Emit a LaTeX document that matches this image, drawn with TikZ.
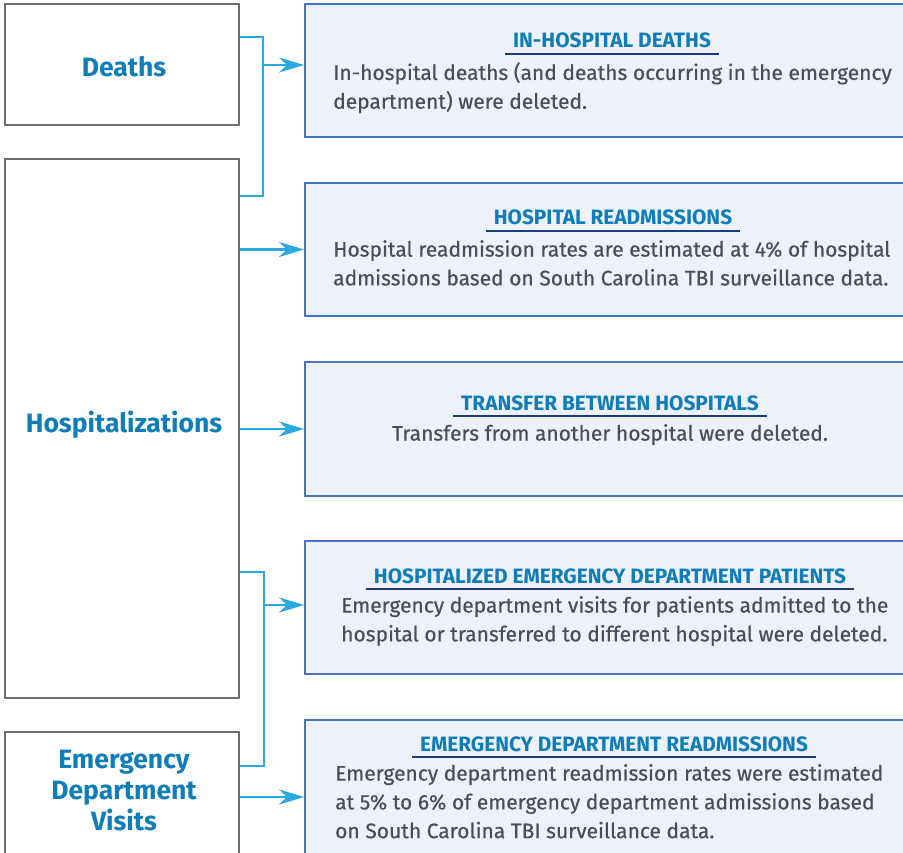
\documentclass[tikz,border=0pt]{standalone}
\usepackage{fontspec}
\setmainfont{Fira Sans}
\newfontfamily\bodyf{Fira Sans}[FakeBold=0.5]
\usetikzlibrary{arrows.meta}
\definecolor{lgray}{HTML}{6E6E6E}
\definecolor{lblue}{HTML}{0F7DB8}
\definecolor{rblue}{HTML}{4A74BE}
\definecolor{rfill}{HTML}{EDF2FA}
\definecolor{ulblue}{HTML}{1C3C78}
\definecolor{cyanl}{HTML}{29A9E0}
\definecolor{bodyc}{HTML}{4B4F55}
\begin{document}
\begin{tikzpicture}[x=1pt,y=-1pt,
  lbox/.style={draw=lgray, line width=2.5pt, fill=white, minimum width=234pt, inner sep=0pt},
  lbl/.style={text=lblue, font=\fontsize{26.5}{31}\selectfont\bfseries, inner sep=0pt, align=center},
  rbox/.style={draw=rblue, fill=rfill, line width=2pt, minimum width=614pt, inner sep=0pt},
  hd/.style={text=lblue, font=\fontsize{20.8}{24}\selectfont\bfseries, inner sep=0pt, anchor=base},
  ul/.style={draw=ulblue, line width=2.5pt},
  body/.style={text=bodyc, font=\fontsize{21}{28.8}\bodyf\selectfont, inner sep=0pt, anchor=north west, align=left},
  br/.style={draw=cyanl, line width=2.5pt},
  arr/.style={draw=cyanl, line width=2.5pt, -{Stealth[length=25pt,width=15pt,inset=8pt]}}
]
\useasboundingbox (0,0) rectangle (903,853);
\clip (0,0) rectangle (903,853);

% left boxes
\node[lbox, minimum height=121pt] (dea) at (122,64.5) {};
\node[lbox, minimum height=539pt] (hos) at (122,428.5) {};
\node[lbox, minimum height=130pt] (ed) at (122,797) {};
\node[lbl, anchor=base] (deat) at (124,77) {Deaths};
\node[lbl, anchor=base] (host) at (124,432) {Hospitalizations};
\node[lbl] (edt) at (124,791) {Emergency\\Department\\Visits};

% right boxes
\node[rbox, minimum height=133pt] (b1) at (612,70.5) {};
\node[rbox, minimum height=133pt] (b2) at (612,249.5) {};
\node[rbox, minimum height=134pt] (b3) at (612,429) {};
\node[rbox, minimum height=133pt] (b4) at (612,607.5) {};
\node[rbox, minimum height=154pt] (b5) at (612,797) {};

% headings
\node[hd] (h1) at (612,48) {IN-HOSPITAL DEATHS};
\node[hd] (h2) at (613,225) {HOSPITAL READMISSIONS};
\node[hd] (h3) at (610,410) {TRANSFER BETWEEN HOSPITALS};
\node[hd] (h4) at (610,583) {HOSPITALIZED EMERGENCY DEPARTMENT PATIENTS};
\node[hd] (h5) at (614,751) {EMERGENCY DEPARTMENT READMISSIONS};
\foreach \h in {h1,h2,h3,h4,h5}{
  \draw[ul] ([xshift=-8pt,yshift=-6pt]\h.base west) -- ([xshift=8pt,yshift=-6pt]\h.base east);
}

% bodies
\node[body] (t1) at (333,62) {In-hospital deaths (and deaths occurring in the emergency\\department) were deleted.};
\node[body] (t2) at (333,240) {Hospital readmission rates are estimated at 4\% of hospital\\admissions based on South Carolina TBI surveillance data.};
\node[body, anchor=north] (t3) at (610,424) {Transfers from another hospital were deleted.};
\node[body] (t4) at (341,596) {Emergency department visits for patients admitted to the\\hospital or transferred to different hospital were deleted.};
\node[body] (t5) at (335,764) {Emergency department readmission rates were estimated\\at 5\% to 6\% of emergency department admissions based\\on South Carolina TBI surveillance data.};

% connectors
\coordinate (j1) at (263,65);
\coordinate (j2) at (264,605);
\draw[br] ([yshift=27.5pt]dea.east) -| (j1) |- ([yshift=232.5pt]hos.east);
\draw[arr] (j1) -- (b1.west |- j1);
\draw[arr] (hos.east |- b2.west) -- (b2.west);
\draw[arr] (hos.east |- b3.west) -- (b3.west);
\draw[br] ([yshift=-143.5pt]hos.east) -| (j2) |- ([yshift=31pt]ed.east);
\draw[arr] (j2) -- (b4.west |- j2);
\draw[arr] (ed.east |- b5.west) -- (b5.west);
\end{tikzpicture}
\end{document}
